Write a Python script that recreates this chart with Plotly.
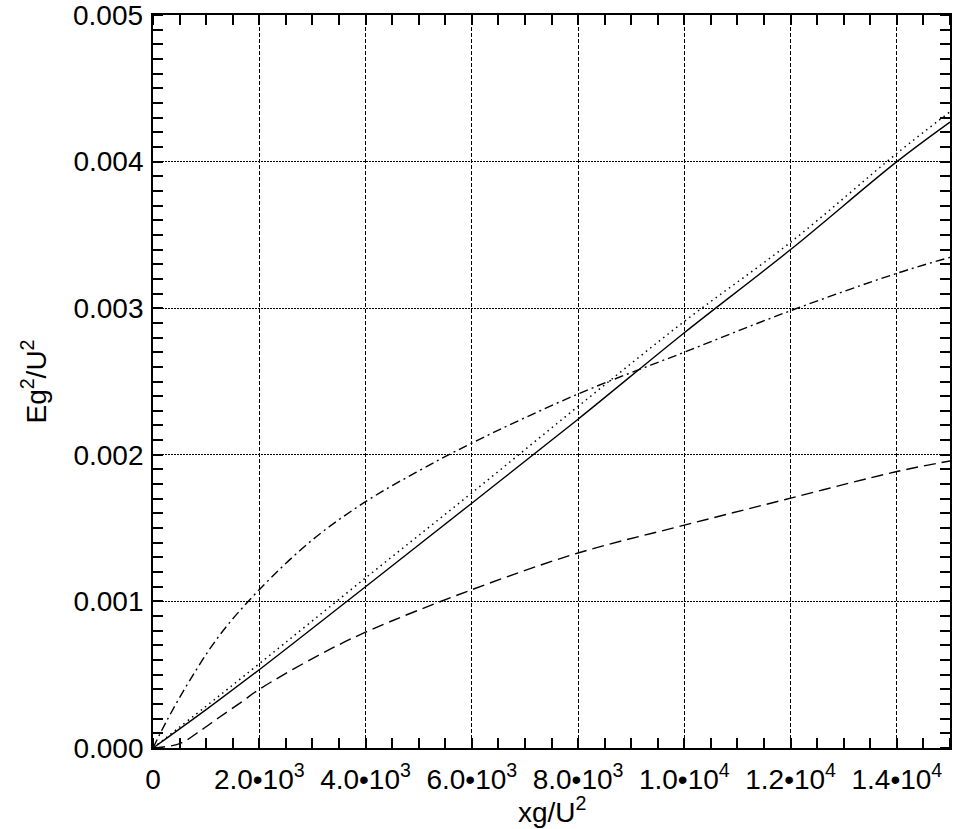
import plotly.graph_objects as go

# x positions (xg/U^2)
x_solid = [0, 1000, 2000, 4000, 6000, 8000, 10000, 12000, 14000, 15000]
y_solid = [0, 0.000262, 0.000534, 0.00110, 0.00167, 0.002243, 0.002833, 0.00340, 0.00400, 0.00427]

x_dot = [0, 1000, 2000, 4000, 6000, 8000, 10000, 12000, 14000, 15000]
y_dot = [0, 0.000285, 0.000575, 0.00116, 0.00174, 0.00233, 0.00291, 0.00345, 0.004056, 0.00434]

x_dashdot = [0, 250, 690, 1255, 2000, 3000, 4000, 5000, 6000, 8000, 10000, 12000, 14000, 15000]
y_dashdot = [0, 0.00018, 0.00046, 0.00077, 0.00108, 0.00142, 0.00168, 0.00189, 0.00208, 0.002415,
             0.00270, 0.002983, 0.003238, 0.003347]

x_dash = [0, 500, 900, 1250, 1650, 2000, 3000, 4000, 6000, 8000, 10000, 12000, 14000, 15000]
y_dash = [0, 0.00003, 0.00012, 0.00021, 0.00031, 0.00040, 0.00061, 0.00079, 0.00108, 0.00133,
          0.00152, 0.001704, 0.001886, 0.001958]

x_tickvals = [0, 2000, 4000, 6000, 8000, 10000, 12000, 14000]
x_ticktext = ["0", "2.0•10<sup>3</sup>", "4.0•10<sup>3</sup>", "6.0•10<sup>3</sup>",
              "8.0•10<sup>3</sup>", "1.0•10<sup>4</sup>", "1.2•10<sup>4</sup>", "1.4•10<sup>4</sup>"]
y_tickvals = [0, 0.001, 0.002, 0.003, 0.004, 0.005]
y_ticktext = ["0.000", "0.001", "0.002", "0.003", "0.004", "0.005"]

x_title = "xg/U<sup>2</sup>"
y_title = "Eg<sup>2</sup>/U<sup>2</sup>"

fig = go.Figure()
fig.add_trace(go.Scatter(x=x_solid, y=y_solid, mode="lines", line=dict(color="black", width=1.4, shape="spline")))
fig.add_trace(go.Scatter(x=x_dot, y=y_dot, mode="lines", line=dict(color="black", width=1.5, dash="1.5px,4px", shape="spline")))
fig.add_trace(go.Scatter(x=x_dashdot, y=y_dashdot, mode="lines", line=dict(color="black", width=1.4, dash="9px,4px,2px,4px", shape="spline")))
fig.add_trace(go.Scatter(x=x_dash, y=y_dash, mode="lines", line=dict(color="black", width=1.4, dash="12px,6px", shape="spline")))

font = dict(family="Liberation Sans, Arial, sans-serif", size=28, color="black")

W, H = 962, 829
L, R, T, B = 153, 12, 15, 81
plot_h = H - T - B

fig.update_layout(
    width=W, height=H,
    margin=dict(l=L, r=R, t=T, b=B),
    paper_bgcolor="white", plot_bgcolor="white",
    showlegend=False,
    font=font,
)
fig.update_xaxes(
    range=[0, 15000], tickvals=x_tickvals, ticktext=x_ticktext,
    showline=True, linecolor="black", linewidth=1.8, mirror="allticks",
    ticks="", showgrid=True, gridcolor="black", gridwidth=1.2, griddash="4px,2px",
    zeroline=False, automargin=False, ticklabelstandoff=5,
    minor=dict(ticks="inside", ticklen=10, dtick=500, tickcolor="black", tickwidth=1.8, showgrid=False),
    tickfont=font,
)
# the top label (0.005) sits at the page edge, where Plotly drops tick labels,
# so it is drawn as an annotation at the same value
y_ticktext_axis = y_ticktext[:-1] + [""]
fig.update_yaxes(
    range=[0, 0.005000001], tickvals=y_tickvals, ticktext=y_ticktext_axis,
    showline=True, linecolor="black", linewidth=1.8, mirror="allticks",
    ticks="", showgrid=True, gridcolor="black", gridwidth=1.2, griddash="2px,1px",
    zeroline=False, automargin=False, ticklabelstandoff=2,
    minor=dict(ticks="inside", ticklen=10, dtick=0.0001, tickcolor="black", tickwidth=1.8, showgrid=False),
    title=dict(text=y_title, font=font, standoff=19),
    tickfont=font,
)
fig.add_annotation(text=y_ticktext[-1], xref="paper", yref="y", x=0, y=y_tickvals[-1],
                   xanchor="right", yanchor="middle", xshift=-8, showarrow=False, font=font)
# x-axis title placed just under the tick labels
fig.add_annotation(text=x_title, xref="paper", yref="paper", x=0.5, y=-(810 - (H - B)) / plot_h,
                   xanchor="center", yanchor="middle", showarrow=False, font=font)

fig.write_html("out.html", config={"displayModeBar": False},
               post_script="document.body.style.margin='0';")
